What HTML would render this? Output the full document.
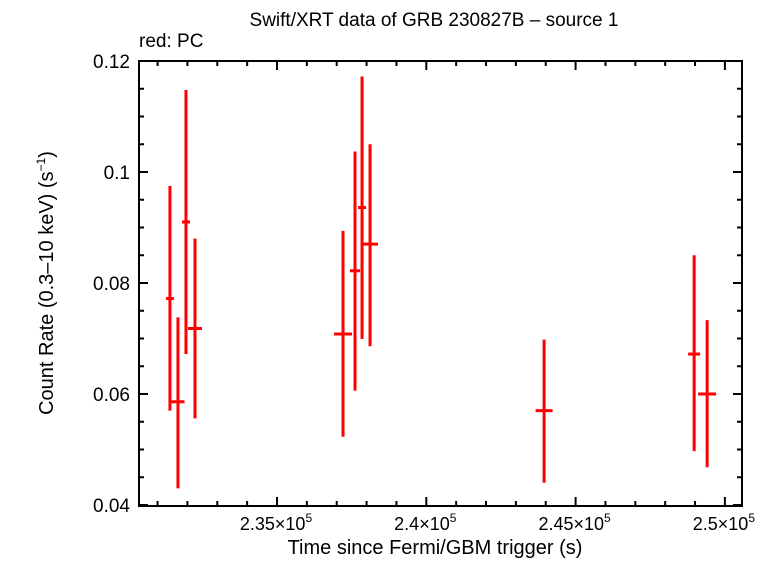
<!DOCTYPE html>
<html><head><meta charset="utf-8"><style>
body{margin:0;background:#fff}
svg text{font-family:"Liberation Sans",sans-serif;fill:#000}
</style></head><body>
<svg id="c" width="774" height="558" xmlns="http://www.w3.org/2000/svg">
<text x="434" y="26" font-size="19" text-anchor="middle">Swift/XRT data of GRB 230827B – source 1</text>
<text x="139" y="47" font-size="19">red: PC</text>
<text x="435" y="554" font-size="20" text-anchor="middle">Time since Fermi/GBM trigger (s)</text>
<text transform="translate(53,283) rotate(-90)" font-size="20" text-anchor="middle">Count Rate (0.3–10 keV) (s<tspan font-size="12" dy="-8">−1</tspan><tspan dy="8">)</tspan></text>
<g id="axes"></g><g id="marks"></g>
</svg>
<script>
const times=[231415,231684,231952,232253,237211,237613,237848,238116,243945,248970,249405];
const timeErr=[134,218,134,235,302,168,134,268,285,201,302];
const rates=[0.0772,0.0586,0.0910,0.0718,0.0708,0.0822,0.0936,0.0870,0.0570,0.0672,0.0600];
const rateHi=[0.0975,0.0738,0.1148,0.0880,0.0894,0.1037,0.1172,0.1050,0.0698,0.0850,0.0733];
const rateLo=[0.0570,0.0430,0.0672,0.0556,0.0523,0.0606,0.0699,0.0686,0.0440,0.0497,0.0468];
const xTicks=[235000,240000,245000,250000];
const xTickLabels=["2.35×10","2.4×10","2.45×10","2.5×10"];
const yTicks=[0.04,0.06,0.08,0.1,0.12];
const yTickLabels=["0.04","0.06","0.08","0.1","0.12"];
const L=139,R=742,T=61,B=506;
const X=v=>277+(v-235000)*149.3/5000;
const Y=v=>505-(v-0.04)*111/0.02;
const NS="http://www.w3.org/2000/svg";
function mk(p,tag,a){const e=document.createElementNS(NS,tag);for(const k in a)e.setAttribute(k,a[k]);p.appendChild(e);return e;}
const ax=document.getElementById('axes'),mg=document.getElementById('marks');
const fr=mk(ax,'rect',{x:L,y:T,width:R-L,height:B-T,fill:'none',stroke:'#000','stroke-width':2});


for(let v=231000;v<=250500;v+=1000){const x=X(v);const mj=v%5000===0;const l=mj?9:5;
 const t1=mk(ax,'line',{x1:x,x2:x,y1:B,y2:B-l,stroke:'#000','stroke-width':2});
 
 const t2=mk(ax,'line',{x1:x,x2:x,y1:T,y2:T+l,stroke:'#000','stroke-width':2});
 }
xTicks.forEach((v,i)=>{const t=mk(ax,'text',{x:X(v)-1,y:530,'font-size':18,'text-anchor':'middle'});t.textContent=xTickLabels[i];
 const s=mk(t,'tspan',{dy:-8,'font-size':12});s.textContent='5';
 });
for(let v=0.04;v<=0.1201;v+=0.005){const y=Y(v);const mj=Math.abs(Math.round(v*1000)%20)<0.5;const l=mj?9:5;
 const t1=mk(ax,'line',{x1:L,x2:L+l,y1:y,y2:y,stroke:'#000','stroke-width':2});
 
 const t2=mk(ax,'line',{x1:R,x2:R-l,y1:y,y2:y,stroke:'#000','stroke-width':2});
 }
yTicks.forEach((v,i)=>{const t=mk(ax,'text',{x:130,y:Y(v)+7,'font-size':19,'text-anchor':'end'});t.textContent=yTickLabels[i];
 });
times.forEach((tv,i)=>{const g=mk(mg,'g',{stroke:'#f00','stroke-width':3});
 
 mk(g,'line',{x1:X(tv),x2:X(tv),y1:Y(rateHi[i]),y2:Y(rateLo[i])});
 mk(g,'line',{x1:X(tv-timeErr[i]),x2:X(tv+timeErr[i]),y1:Y(rates[i]),y2:Y(rates[i])});});
</script>
</body></html>
